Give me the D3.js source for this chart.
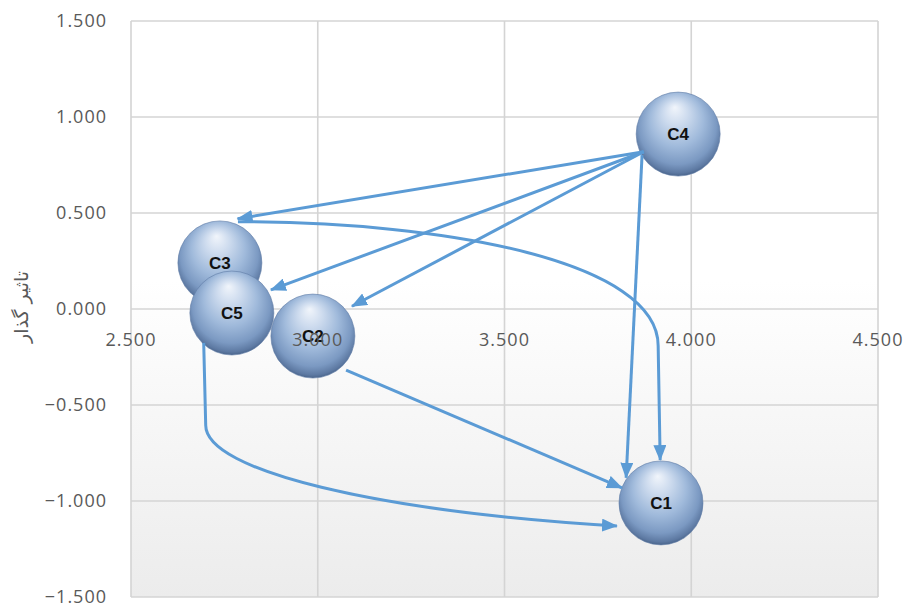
<!DOCTYPE html>
<html>
<head>
<meta charset="utf-8">
<script src="https://cdn.jsdelivr.net/npm/d3@7"></script>
<style>
  html, body { margin: 0; padding: 0; background: #ffffff; }
  svg { display: block; }
</style>
</head>
<body>
<svg id="chart" width="906" height="605"></svg>
<script>
// Cause/effect map: D+R on the horizontal axis, D-R on the vertical axis
const categories = ["C1", "C2", "C3", "C4", "C5"];
const xValues = [3.919, 2.987, 2.738, 3.965, 2.770];
const yValues = [-1.010, -0.141, 0.240, 0.911, -0.021];
const sizes = [1, 1, 1, 1, 1];
const xTicks = [2.5, 3.0, 3.5, 4.0, 4.5];
const yTicks = [-1.5, -1.0, -0.5, 0.0, 0.5, 1.0, 1.5];
const yTitle = "تاثیر گذار";
// influence relations (source -> target)
const links = [
  ["C4", "C3"], ["C4", "C5"], ["C4", "C2"], ["C4", "C1"],
  ["C3", "C1"], ["C2", "C1"], ["C5", "C1"]
];

const plot = { left: 131, right: 878, top: 21, bottom: 597 };

const svg = d3.select("#chart");
const x = d3.scaleLinear().domain([2.5, 4.5]).range([plot.left, plot.right]);
const y = d3.scaleLinear().domain([-1.5, 1.5]).range([plot.bottom, plot.top]);
const r = d3.scaleSqrt().domain([0, 1]).range([0, 42]);

const nodes = categories.map((c, i) => ({ id: c, x: xValues[i], y: yValues[i], s: sizes[i] }));
const byId = new Map(nodes.map(n => [n.id, n]));

const defs = svg.append("defs");
const bg = defs.append("linearGradient").attr("id", "plotBg")
  .attr("x1", 0).attr("y1", 0).attr("x2", 0).attr("y2", 1);
bg.append("stop").attr("offset", "0%").attr("stop-color", "#ffffff");
bg.append("stop").attr("offset", "45%").attr("stop-color", "#ffffff");
bg.append("stop").attr("offset", "100%").attr("stop-color", "#ececec");

const sphere = defs.append("radialGradient").attr("id", "sphere")
  .attr("cx", "50%").attr("cy", "45%").attr("r", "58%")
  .attr("fx", "46%").attr("fy", "18%");
[["0%", "#f1f5fb"], ["25%", "#cddbee"], ["55%", "#a0badb"], ["80%", "#7b99c2"],
 ["92%", "#5d79a2"], ["100%", "#3a5479"]].forEach(([o, c]) =>
  sphere.append("stop").attr("offset", o).attr("stop-color", c));

const arrowColor = "#5b9bd5";
defs.append("marker").attr("id", "arrow")
  .attr("viewBox", "0 0 16 13").attr("refX", 15).attr("refY", 6.5)
  .attr("markerWidth", 16).attr("markerHeight", 13)
  .attr("markerUnits", "userSpaceOnUse").attr("orient", "auto")
  .append("path").attr("d", "M0,0 L16,6.5 L0,13 Z").attr("fill", arrowColor);

// plot area
svg.append("rect")
  .attr("x", plot.left).attr("y", plot.top)
  .attr("width", plot.right - plot.left).attr("height", plot.bottom - plot.top)
  .attr("fill", "url(#plotBg)");

const grid = svg.append("g").attr("stroke", "#d4d4d4").attr("stroke-width", 1.6);
grid.selectAll("line.h").data(yTicks).join("line")
  .attr("x1", plot.left).attr("x2", plot.right)
  .attr("y1", d => y(d)).attr("y2", d => y(d));
grid.selectAll("line.v").data(xTicks).join("line")
  .attr("y1", plot.top).attr("y2", plot.bottom)
  .attr("x1", d => x(d)).attr("x2", d => x(d));

// bubbles
const bub = svg.append("g").selectAll("g").data(nodes).join("g")
  .attr("transform", d => `translate(${x(d.x)},${y(d.y)})`);
bub.append("circle").attr("r", d => r(d.s))
  .attr("fill", "url(#sphere)")
  .attr("stroke", "#5f7ca6").attr("stroke-width", 0.6);
bub.append("text").text(d => d.id)
  .attr("text-anchor", "middle").attr("dy", "0.36em")
  .attr("font-family", "'Liberation Sans', Arial, sans-serif")
  .attr("font-weight", "bold").attr("font-size", 17).attr("fill", "#111");

// connection ports on each bubble, in units of its radius
const ports = {
  "C4-C3": [[-0.82, 0.42], [0.42, -1.05]],
  "C4-C5": [[-0.82, 0.42], [0.93, -0.55]],
  "C4-C2": [[-0.82, 0.42], [0.93, -0.71]],
  "C4-C1": [[-0.86, 0.50], [-0.83, -0.60]],
  "C3-C1": [[0.43, -0.98], [-0.02, -1.02]],
  "C2-C1": [[0.79, 0.81], [-0.93, -0.36]],
  "C5-C1": [[-0.67, 0.71], [-1.05, 0.55]]
};
function portPoint(n, u) {
  const rr = r(n.s);
  return [x(n.x) + u[0] * rr, y(n.y) + u[1] * rr];
}
function linkPath(l) {
  const key = l[0] + "-" + l[1];
  const [s, e] = [portPoint(byId.get(l[0]), ports[key][0]), portPoint(byId.get(l[1]), ports[key][1])];
  const dx = e[0] - s[0], dy = e[1] - s[1];
  const p = d3.path();
  p.moveTo(s[0], s[1]);
  if (key === "C3-C1") {
    // leaves to the right, bends down into the target
    const k = [e[0] - 2, s[1] + 0.52 * dy];
    p.bezierCurveTo(s[0] + 0.5 * dx, s[1], k[0], s[1] + 0.17 * dy, k[0], k[1]);
    p.lineTo(e[0], e[1]);
  } else if (key === "C5-C1") {
    // leaves downward, bends right into the target
    const k = [s[0] + 2, s[1] + 0.45 * dy];
    p.lineTo(k[0], k[1]);
    p.bezierCurveTo(k[0], s[1] + 0.7 * dy, s[0] + 0.42 * dx, e[1] - 0.08 * dy, e[0], e[1]);
  } else {
    p.lineTo(e[0], e[1]);
  }
  return p.toString();
}
svg.append("g").selectAll("path").data(links).join("path")
  .attr("d", linkPath)
  .attr("fill", "none").attr("stroke", arrowColor).attr("stroke-width", 3)
  .attr("marker-end", "url(#arrow)");

// tick labels
const fmt = d3.format(".3f");
const labelFont = "'Open Sans', 'Noto Sans', sans-serif";
svg.append("g").selectAll("text").data(yTicks).join("text")
  .attr("x", 107).attr("y", d => y(d)).attr("dy", "0.36em")
  .attr("text-anchor", "end")
  .attr("font-family", labelFont).attr("font-size", 18).attr("letter-spacing", 1)
  .attr("fill", "#595959").text(d => fmt(d));
svg.append("g").selectAll("text").data(xTicks).join("text")
  .attr("x", d => x(d)).attr("y", y(0) + 31).attr("dy", "0.36em")
  .attr("text-anchor", "middle")
  .attr("font-family", labelFont).attr("font-size", 18).attr("letter-spacing", 1)
  .attr("fill", "#595959").text(d => fmt(d));

svg.append("text")
  .attr("transform", `translate(21,${y(0) - 2}) rotate(-90)`)
  .attr("text-anchor", "middle").attr("dy", "0.35em")
  .attr("font-family", "'DejaVu Sans', sans-serif").attr("font-size", 19)
  .attr("fill", "#595959").text(yTitle);
</script>
</body>
</html>
